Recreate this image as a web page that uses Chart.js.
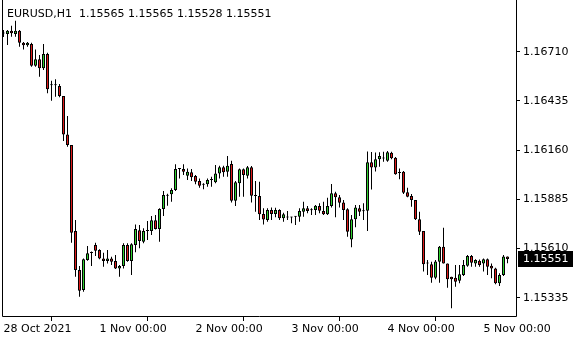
<!DOCTYPE html>
<html>
<head>
<meta charset="utf-8">
<title>EURUSD H1</title>
<script src="https://cdn.jsdelivr.net/npm/chart.js@4.4.0/dist/chart.umd.min.js"></script>
<style>
html, body { margin: 0; padding: 0; background: #fff; }
#wrap { width: 580px; height: 340px; }
</style>
</head>
<body>
<div id="wrap"><canvas id="chart"></canvas></div>
<script>
// EURUSD H1 candles, one entry per hourly bar (left to right)
const symbol = 'EURUSD,H1';

const opens = [
  1.16812, 1.16809, 1.16827, 1.16809, 1.16827, 1.16760, 1.16746, 1.16753, 1.16632, 1.16668,
  1.16617, 1.16697, 1.16524, 1.16522, 1.16518, 1.16462, 1.16248, 1.16189, 1.15708, 1.15490,
  1.15378, 1.15546, 1.15585, 1.15630, 1.15602, 1.15555, 1.15540, 1.15555, 1.15540, 1.15499,
  1.15512, 1.15630, 1.15540, 1.15630, 1.15712, 1.15648, 1.15708, 1.15708, 1.15768, 1.15719,
  1.15831, 1.15905, 1.15913, 1.15937, 1.16054, 1.16054, 1.16017, 1.16036, 1.16015, 1.15987,
  1.15966, 1.15969, 1.15993, 1.15980, 1.16030, 1.16064, 1.16039, 1.16082, 1.15877, 1.15975,
  1.16053, 1.16017, 1.16064, 1.15905, 1.15903, 1.15803, 1.15769, 1.15825, 1.15803, 1.15825,
  1.15779, 1.15786, 1.15785, 1.15787, 1.15788, 1.15816, 1.15835, 1.15826, 1.15825, 1.15848,
  1.15820, 1.15801, 1.15848, 1.15919, 1.15896, 1.15868, 1.15829, 1.15660, 1.15773, 1.15835,
  1.15819, 1.15821, 1.16092, 1.16063, 1.16109, 1.16113, 1.16101, 1.16146, 1.16118, 1.16034,
  1.16039, 1.15924, 1.15904, 1.15881, 1.15773, 1.15708, 1.15527, 1.15522, 1.15447, 1.15536,
  1.15620, 1.15527, 1.15453, 1.15447, 1.15430, 1.15462, 1.15514, 1.15568, 1.15527, 1.15542,
  1.15527, 1.15550, 1.15514, 1.15499, 1.15416, 1.15462, 1.15565
];
const highs = [
  1.16831, 1.16831, 1.16855, 1.16883, 1.16831, 1.16764, 1.16764, 1.16760, 1.16723, 1.16692,
  1.16753, 1.16704, 1.16548, 1.16556, 1.16530, 1.16462, 1.16351, 1.16189, 1.15769, 1.15512,
  1.15555, 1.15624, 1.15593, 1.15643, 1.15606, 1.15587, 1.15602, 1.15564, 1.15574, 1.15518,
  1.15639, 1.15639, 1.15639, 1.15745, 1.15741, 1.15723, 1.15764, 1.15792, 1.15797, 1.15835,
  1.15932, 1.15916, 1.15947, 1.16081, 1.16058, 1.16081, 1.16058, 1.16054, 1.16021, 1.16002,
  1.15975, 1.16002, 1.16011, 1.16077, 1.16073, 1.16073, 1.16127, 1.16101, 1.15987, 1.16058,
  1.16058, 1.16071, 1.16071, 1.15987, 1.15983, 1.15835, 1.15835, 1.15840, 1.15838, 1.15829,
  1.15810, 1.15820, 1.15788, 1.15792, 1.15835, 1.15872, 1.15848, 1.15835, 1.15853, 1.15863,
  1.15872, 1.15894, 1.15971, 1.15928, 1.15909, 1.15881, 1.15835, 1.15797, 1.15853, 1.15853,
  1.15863, 1.16152, 1.16149, 1.16147, 1.16148, 1.16151, 1.16155, 1.16151, 1.16122, 1.16058,
  1.16043, 1.15950, 1.15915, 1.15881, 1.15816, 1.15708, 1.15546, 1.15536, 1.15546, 1.15624,
  1.15726, 1.15527, 1.15453, 1.15518, 1.15518, 1.15546, 1.15574, 1.15574, 1.15550, 1.15549,
  1.15555, 1.15555, 1.15527, 1.15503, 1.15472, 1.15574, 1.15565
];
const lows = [
  1.16792, 1.16747, 1.16794, 1.16794, 1.16738, 1.16723, 1.16738, 1.16626, 1.16626, 1.16570,
  1.16608, 1.16478, 1.16436, 1.16459, 1.16455, 1.16211, 1.16179, 1.15643, 1.15453, 1.15341,
  1.15369, 1.15542, 1.15512, 1.15568, 1.15550, 1.15508, 1.15527, 1.15518, 1.15496, 1.15453,
  1.15499, 1.15536, 1.15462, 1.15589, 1.15611, 1.15639, 1.15658, 1.15686, 1.15716, 1.15648,
  1.15792, 1.15849, 1.15872, 1.15932, 1.16002, 1.16021, 1.15993, 1.15987, 1.15969, 1.15950,
  1.15941, 1.15956, 1.15956, 1.15975, 1.16002, 1.16011, 1.16011, 1.15868, 1.15848, 1.15900,
  1.15900, 1.16002, 1.15868, 1.15816, 1.15769, 1.15745, 1.15760, 1.15769, 1.15785, 1.15769,
  1.15760, 1.15769, 1.15751, 1.15741, 1.15760, 1.15788, 1.15807, 1.15797, 1.15797, 1.15807,
  1.15797, 1.15797, 1.15840, 1.15785, 1.15840, 1.15769, 1.15676, 1.15617, 1.15729, 1.15792,
  1.15769, 1.15708, 1.15940, 1.16040, 1.16067, 1.16095, 1.16095, 1.16109, 1.16022, 1.15997,
  1.15915, 1.15896, 1.15844, 1.15769, 1.15686, 1.15481, 1.15462, 1.15419, 1.15438, 1.15419,
  1.15527, 1.15391, 1.15276, 1.15397, 1.15416, 1.15457, 1.15508, 1.15508, 1.15508, 1.15508,
  1.15481, 1.15462, 1.15444, 1.15410, 1.15401, 1.15457, 1.15528
];
const closes = [
  1.16815, 1.16827, 1.16813, 1.16827, 1.16760, 1.16746, 1.16760, 1.16632, 1.16668, 1.16617,
  1.16697, 1.16500, 1.16522, 1.16524, 1.16462, 1.16248, 1.16189, 1.15698, 1.15490, 1.15374,
  1.15550, 1.15583, 1.15590, 1.15598, 1.15555, 1.15540, 1.15555, 1.15536, 1.15499, 1.15512,
  1.15630, 1.15540, 1.15634, 1.15719, 1.15652, 1.15708, 1.15710, 1.15768, 1.15719, 1.15831,
  1.15909, 1.15907, 1.15937, 1.16054, 1.16056, 1.16039, 1.16039, 1.16008, 1.15983, 1.15961,
  1.15969, 1.15993, 1.15995, 1.16030, 1.16064, 1.16036, 1.16073, 1.15877, 1.15980, 1.16053,
  1.16021, 1.16064, 1.15905, 1.15903, 1.15801, 1.15772, 1.15825, 1.15803, 1.15825, 1.15779,
  1.15801, 1.15784, 1.15784, 1.15789, 1.15820, 1.15835, 1.15820, 1.15824, 1.15849, 1.15821,
  1.15801, 1.15848, 1.15919, 1.15896, 1.15866, 1.15825, 1.15704, 1.15773, 1.15840, 1.15816,
  1.15821, 1.16092, 1.16063, 1.16109, 1.16127, 1.16115, 1.16148, 1.16114, 1.16025, 1.16032,
  1.15922, 1.15900, 1.15881, 1.15773, 1.15704, 1.15522, 1.15529, 1.15447, 1.15538, 1.15620,
  1.15527, 1.15438, 1.15438, 1.15425, 1.15466, 1.15518, 1.15568, 1.15531, 1.15546, 1.15518,
  1.15550, 1.15508, 1.15499, 1.15416, 1.15462, 1.15565, 1.15551
];

// price axis and time axis labels
const yTicks = [1.15335, 1.15610, 1.15885, 1.16160, 1.16435, 1.16710];
const xTickBars = [0, 24, 48, 72, 96, 120];
const xTickLabels = ['28 Oct 2021', '1 Nov 00:00', '2 Nov 00:00', '3 Nov 00:00', '4 Nov 00:00', '5 Nov 00:00'];

const BULL = '#2fd12f';
const BEAR = '#dd1a1a';
const FONT = { family: 'DejaVu Sans', size: 11 };

Chart.defaults.font.family = FONT.family;
Chart.defaults.font.size = FONT.size;
Chart.defaults.color = '#000';

const idx = opens.map((o, i) => i);
const bodies = idx.map(i => ({ x: i, y: [opens[i], closes[i]] }));
const wicks = idx.map(i => ({ x: i, y: [lows[i], highs[i]] }));
const bodyColors = idx.map(i => closes[i] >= opens[i] ? BULL : BEAR);

const last = closes.length - 1;
const ohlcText = [opens[last], highs[last], lows[last], closes[last]].map(v => v.toFixed(5)).join(' ');

// frame, title line and current price marker
const mtDecor = {
  id: 'mtDecor',
  afterDraw(chart) {
    const { ctx, chartArea: a } = chart;
    const ys = chart.scales.y;
    ctx.save();
    ctx.strokeStyle = '#000';
    ctx.lineWidth = 1;
    ctx.beginPath();
    ctx.moveTo(a.left + 0.5, a.top);
    ctx.lineTo(a.left + 0.5, a.bottom + 0.5);
    ctx.lineTo(a.right + 0.5, a.bottom + 0.5);
    ctx.lineTo(a.right + 0.5, a.top);
    ctx.stroke();

    ctx.font = FONT.size + 'px "' + FONT.family + '"';
    ctx.fillStyle = '#000';
    ctx.textBaseline = 'alphabetic';
    ctx.textAlign = 'left';
    ctx.fillText(symbol, 7, 17);
    ctx.fillText(ohlcText, 79, 17);

    const py = Math.round(ys.getPixelForValue(closes[last]));
    ctx.fillStyle = '#000';
    ctx.fillRect(a.right + 2, py - 8, 55, 16);
    ctx.fillStyle = '#fff';
    ctx.textBaseline = 'middle';
    ctx.fillText(closes[last].toFixed(5), a.right + 7, py + 0.5);
    ctx.restore();
  }
};

new Chart(document.getElementById('chart'), {
  type: 'bar',
  data: {
    datasets: [
      {
        label: 'body',
        data: bodies,
        backgroundColor: bodyColors,
        borderColor: '#000',
        borderWidth: 1,
        borderSkipped: false,
        barThickness: 3,
        minBarLength: 1,
        inflateAmount: 0,
        grouped: false
      },
      {
        label: 'wick',
        data: wicks,
        backgroundColor: '#000',
        borderWidth: 0,
        barThickness: 1,
        minBarLength: 1,
        inflateAmount: 0,
        grouped: false
      }
    ]
  },
  options: {
    responsive: true,
    maintainAspectRatio: false,
    animation: false,
    layout: { padding: { left: 2, top: 0, right: 0, bottom: 0 } },
    plugins: { legend: { display: false }, tooltip: { enabled: false } },
    scales: {
      x: {
        type: 'linear',
        min: -0.375,
        max: 128.125,
        offset: false,
        afterBuildTicks: s => { s.ticks = xTickBars.map(v => ({ value: v })); },
        afterFit: s => { s.height = 24; s.paddingLeft = 0; s.paddingRight = 0; },
        ticks: {
          callback: v => xTickLabels[xTickBars.indexOf(v)],
          align: 'start',
          maxRotation: 0,
          autoSkip: false,
          padding: 2,
          color: '#000'
        },
        grid: { drawOnChartArea: false, drawTicks: true, tickLength: 5, color: '#000' },
        border: { display: false }
      },
      y: {
        position: 'right',
        min: 1.15233,
        max: 1.16999,
        afterBuildTicks: s => { s.ticks = yTicks.map(v => ({ value: v })); },
        afterFit: s => { s.width = 64; s.paddingTop = 0; s.paddingBottom = 0; },
        ticks: { callback: v => v.toFixed(5), padding: 3, color: '#000' },
        grid: { drawOnChartArea: false, drawTicks: true, tickLength: 4, color: '#000' },
        border: { display: false }
      }
    }
  },
  plugins: [mtDecor]
});
</script>
</body>
</html>
